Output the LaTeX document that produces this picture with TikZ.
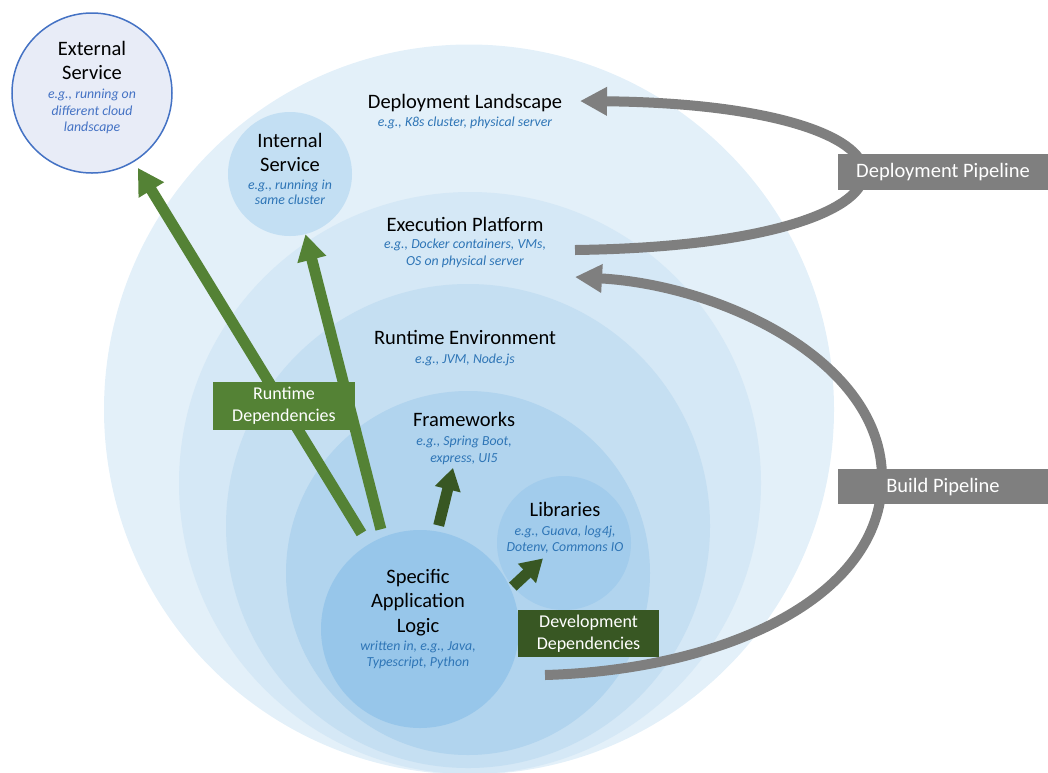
\documentclass[tikz,border=0pt]{standalone}
\usepackage{fontspec}
\setmainfont{Carlito}
\usepackage{xcolor}
\usepackage{tikz}
\usetikzlibrary{calc,positioning,arrows.meta}
\definecolor{Landscape}{HTML}{E3F0F9}
\definecolor{Platform}{HTML}{D5E8F6}
\definecolor{Runtime}{HTML}{C5DFF2}
\definecolor{Frame}{HTML}{B1D4EE}
\definecolor{Libs}{HTML}{A2CCEC}
\definecolor{Core}{HTML}{97C6EA}
\definecolor{Inner}{HTML}{C3DFF3}
\definecolor{Outer}{HTML}{E8ECF7}
\definecolor{OuterLine}{HTML}{4472C4}
\definecolor{Hint}{HTML}{2E75B6}
\definecolor{Leaf}{HTML}{548235}
\definecolor{Moss}{HTML}{385723}
\definecolor{Pipe}{HTML}{7F7F7F}
\newcommand{\hint}[2][Hint]{{\fontsize{13.8}{15}\selectfont\itshape\color{#1}#2}}

\begin{document}
\begin{tikzpicture}[x=1pt,y=-1pt,
  ring/.style={circle,inner sep=0pt,draw=none},
  ringtext/.style={inner sep=0pt,align=center,anchor=north,font=\fontsize{20.5}{24.5}\selectfont},
  depbox/.style={inner sep=0pt,align=center,text=white,font=\fontsize{18}{22}\selectfont},
  pipebox/.style={fill=Pipe,inner sep=0pt,text=white,minimum width=210pt,font=\fontsize{20.5}{24}\selectfont},
  rtarrow/.style={draw=Leaf,line width=11pt,-{Triangle[length=26pt,width=28pt]}},
  devarrow/.style={draw=Moss,line width=11pt,-{Triangle[length=22pt,width=25pt]}},
  pipearrow/.style={draw=Pipe,line width=10pt,-{Triangle[length=27pt,width=27pt]}}]
\useasboundingbox (0,0) rectangle (1048,772);
\node[ring,fill=Landscape,minimum size=730pt] (landscape) at (469,409.5) {};
\node[ring,fill=Platform,minimum size=582pt] (platform) at (470,483) {};
\node[ring,fill=Runtime,minimum size=484pt] (runtime) at (468,526) {};
\node[ring,fill=Frame,minimum size=364pt] (frameworks) at (468,573) {};
\node[ring,fill=Libs,minimum size=134pt] (libs) at (564,543) {};
\node[ring,fill=Core,minimum size=198pt] (app) at (420,629) {};
\node[ring,fill=Inner,minimum size=124pt] (internal) at (290,174) {};
\node[ring,fill=Outer,draw=OuterLine,line width=1.5pt,minimum size=160pt] (external) at (92,93) {};

\node[ringtext] (extTxt) at (92,41) {External\\Service\\[-5.5pt]\hint[OuterLine]{e.g., running on}\\[-8pt]\hint[OuterLine]{different cloud}\\[-8pt]\hint[OuterLine]{landscape}};
\node[ringtext] (intTxt) at (290,133) {Internal\\Service\\[-7pt]\hint{e.g., running in}\\[-9pt]\hint{same cluster}};
\node[ringtext] (landTxt) at (465,94) {Deployment Landscape\\[-6.5pt]\hint{e.g., K8s cluster, physical server}};
\node[ringtext] (platTxt) at (465,217) {Execution Platform\\[-7.5pt]\hint{e.g., Docker containers, VMs,}\\[-7.5pt]\hint{OS on physical server}};
\node[ringtext] (runTxt) at (465,330) {Runtime Environment\\[-5.5pt]\hint{e.g., JVM, Node.js}};
\node[ringtext] (fwTxt) at (464,412) {Frameworks\\[-5.5pt]\hint{e.g., Spring Boot,}\\[-7.5pt]\hint{express, UI5}};
\node[ringtext] (libTxt) at (565,502) {Libraries\\[-5.5pt]\hint{e.g., Guava, log4j,}\\[-8.5pt]\hint{Dotenv, Commons IO}};
\node[ringtext] (appTxt) at (418,569) {Specific\\Application\\Logic\\[-6.5pt]\hint{written in, e.g., Java,}\\[-8.5pt]\hint{Typescript, Python}};

\draw[rtarrow,shorten <=13pt,shorten >=7pt] (app) -- (external);
\draw[rtarrow,shorten <=8pt] (app.112) -- (internal);
\node[depbox,fill=Leaf,minimum width=142pt,minimum height=48pt] (rtDeps) at (284,406) {Runtime\\Dependencies};
\draw[devarrow,shorten <=6pt] (app.80) -- ($(fwTxt.south)+(-11,3)$);
\draw[devarrow,shorten <=3pt] (app.24) -- ($(libTxt.south)+(-22,5)$);

\coordinate (deployFrom) at (575,250);
\coordinate (deployTo) at (580,101);
\coordinate (buildFrom) at (545,675);
\coordinate (buildTurn) at (882,478);
\coordinate (buildTo) at (575,277);
\draw[pipearrow] (deployFrom) .. controls (955,245) and (955,105) .. (deployTo);
\draw[pipearrow] (buildFrom) .. controls (720,670) and (882,600) .. (buildTurn) .. controls (882,360) and (720,285) .. (buildTo);
\node[depbox,fill=Moss,minimum width=141pt,minimum height=47pt] (devDeps) at (588.5,633.5) {Development\\Dependencies};
\node[pipebox,minimum height=36pt] (deployPipe) at (943,172) {Deployment Pipeline};
\node[pipebox,minimum height=35pt,below=279pt of deployPipe] (buildPipe) {Build Pipeline};
\end{tikzpicture}
\end{document}
